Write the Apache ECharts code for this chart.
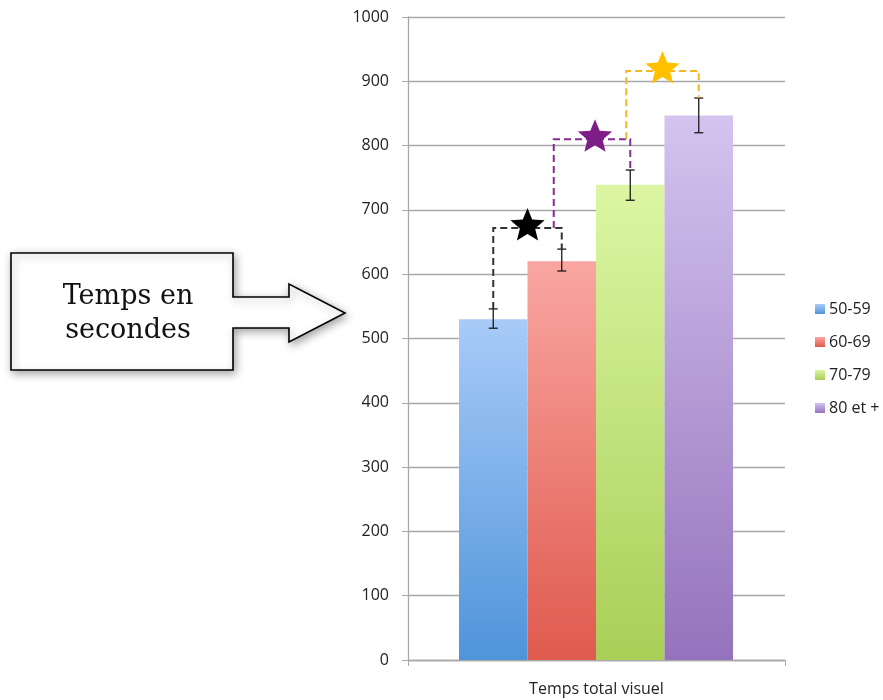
<!DOCTYPE html>
<html>
<head>
<meta charset="utf-8">
<script src="https://cdn.jsdelivr.net/npm/echarts@6/dist/echarts.min.js"></script>
<style>html,body{margin:0;padding:0;background:#fff;}#c{width:883px;height:700px;}</style>
</head>
<body>
<div id="c"></div>
<script>
// ---- data ----
var groups = ['50-59', '60-69', '70-79', '80 et +'];
var axisCategory = ['Temps total visuel'];
var means = [530, 620, 739, 847];
var errLow = [516, 605, 715, 820];
var errHigh = [546, 639, 762, 874];
var yTicks = [0, 100, 200, 300, 400, 500, 600, 700, 800, 900, 1000];
// significance brackets: left group, right group, start of left leg, top level, end of right leg
var brLeft = [0, 1, 2];
var brRight = [1, 2, 3];
var brLeftStart = [546, 672, 810];
var brTop = [672, 810, 916];
var brRightEnd = [639, 762, 874];
var calloutLines = ['Temps en', 'secondes'];

// ---- styles ----
var topColors = ['#A8CBF8', '#F9A6A1', '#DCF6A3', '#D4C3EF'];
var bottomColors = ['#4F94DA', '#E05A4E', '#A9CF57', '#9473BC'];
var brColors = ['#333333', '#862E90', '#F2B824'];
var starColors = ['#000000', '#7E1C88', '#FFC000'];
var brLeftShift = [0, -8, -4];
var starShift = [0, 3, 0];

var chart = echarts.init(document.getElementById('c'));

function grad(i) {
  return new echarts.graphic.LinearGradient(0, 0, 0, 1, [
    {offset: 0, color: topColors[i]}, {offset: 1, color: bottomColors[i]}
  ]);
}

var series = groups.map(function (g, i) {
  return {
    name: g,
    type: 'bar',
    xAxisIndex: 1, yAxisIndex: 1,
    stack: 'all',
    barCategoryGap: '0%',
    barWidth: '100%',
    itemStyle: {color: grad(i)},
    data: groups.map(function (_, j) { return j === i ? means[i] : '-'; })
  };
});

// error bars
series.push({
  type: 'custom',
  xAxisIndex: 1, yAxisIndex: 1,
  z: 5,
  silent: true,
  data: means.map(function (_, i) { return [i, errLow[i], errHigh[i]]; }),
  renderItem: function (params, api) {
    var lo = api.coord([api.value(0), api.value(1)]);
    var hi = api.coord([api.value(0), api.value(2)]);
    var x = lo[0], h = 4.5;
    var st = {stroke: '#1a1a1a', lineWidth: 1.3};
    return {type: 'group', children: [
      {type: 'line', shape: {x1: x, y1: lo[1], x2: x, y2: hi[1]}, style: st},
      {type: 'line', shape: {x1: x - h, y1: lo[1], x2: x + h, y2: lo[1]}, style: st},
      {type: 'line', shape: {x1: x - h, y1: hi[1], x2: x + h, y2: hi[1]}, style: st}
    ]};
  }
});

function starPoints(cx, cy, R, r) {
  var pts = [];
  for (var k = 0; k < 10; k++) {
    var rad = k % 2 === 0 ? R : r;
    var a = -Math.PI / 2 + k * Math.PI / 5;
    pts.push([cx + rad * Math.cos(a), cy + rad * Math.sin(a)]);
  }
  return pts;
}

// brackets + stars
series.push({
  type: 'custom',
  xAxisIndex: 1, yAxisIndex: 1,
  z: 6,
  silent: true,
  data: brLeft.map(function (_, i) { return [brLeft[i], brRight[i], brLeftStart[i], brTop[i], brRightEnd[i]]; }),
  renderItem: function (params, api) {
    var i = params.dataIndex;
    var a = api.coord([api.value(0), api.value(2)]);
    var t = api.coord([api.value(0), api.value(3)]);
    var b = api.coord([api.value(1), api.value(4)]);
    var xl = a[0] + brLeftShift[i], xr = b[0];
    var st = {stroke: brColors[i], lineWidth: 2, lineDash: [7, 4], fill: null};
    var cx = (xl + xr) / 2 + starShift[i], cy = t[1] - 2;
    return {type: 'group', children: [
      {type: 'polyline', shape: {points: [[xl, a[1]], [xl, t[1]], [xr, t[1]], [xr, b[1]]]}, style: st},
      {type: 'polygon', shape: {points: starPoints(cx, cy, 18, 8)}, style: {fill: starColors[i]}}
    ]};
  }
});

chart.setOption({
  animation: false,
  backgroundColor: '#fff',
  textStyle: {fontFamily: 'Open Sans'},
  grid: [
    {left: 408, right: 98, top: 17, bottom: 40},
    {left: 459, width: 274, top: 17, bottom: 40}
  ],
  legend: {
    orient: 'vertical',
    left: 815, top: 301,
    itemWidth: 10, itemHeight: 10, itemGap: 17,
    icon: 'rect',
    padding: 0,
    textStyle: {fontSize: 16, color: '#222', fontFamily: 'Open Sans', padding: [0, 0, 0, -1]},
    data: groups
  },
  xAxis: [
    {
      type: 'category', gridIndex: 0, data: axisCategory,
      axisLine: {lineStyle: {color: '#a8a8a8', width: 1.3}},
      axisTick: {show: true, length: 6, lineStyle: {color: '#a8a8a8'}},
      axisLabel: {color: '#222', fontSize: 16, margin: 21}
    },
    {type: 'category', gridIndex: 1, data: groups, show: false}
  ],
  yAxis: [
    {
      type: 'value', gridIndex: 0, min: yTicks[0], max: yTicks[yTicks.length - 1], interval: yTicks[1] - yTicks[0],
      axisLine: {show: true, lineStyle: {color: '#a8a8a8', width: 1.3}},
      axisTick: {show: true, length: 6, lineStyle: {color: '#a8a8a8'}},
      splitLine: {lineStyle: {color: '#a8a8a8', width: 1.3}},
      axisLabel: {color: '#222', fontSize: 16, margin: 19, formatter: function (v) { return String(v); }}
    },
    {type: 'value', gridIndex: 1, min: yTicks[0], max: yTicks[yTicks.length - 1], show: false}
  ],
  series: series,
  graphic: [
    {
      type: 'polygon', z: 10,
      shape: {points: [[11,253],[233,253],[233,297],[289,297],[289,284],[345,313],[289,342],[289,328],[233,328],[233,370],[11,370]]},
      style: {fill: '#fff', stroke: '#000', lineWidth: 1.6, shadowBlur: 8, shadowColor: 'rgba(0,0,0,0.35)', shadowOffsetX: 2, shadowOffsetY: 3}
    },
    {
      type: 'text', z: 11, x: 128, y: 280,
      style: {text: calloutLines.join('\n'), align: 'center', verticalAlign: 'top', fill: '#111', font: '27px "DejaVu Serif"', lineHeight: 34}
    }
  ]
});
</script>
</body>
</html>
